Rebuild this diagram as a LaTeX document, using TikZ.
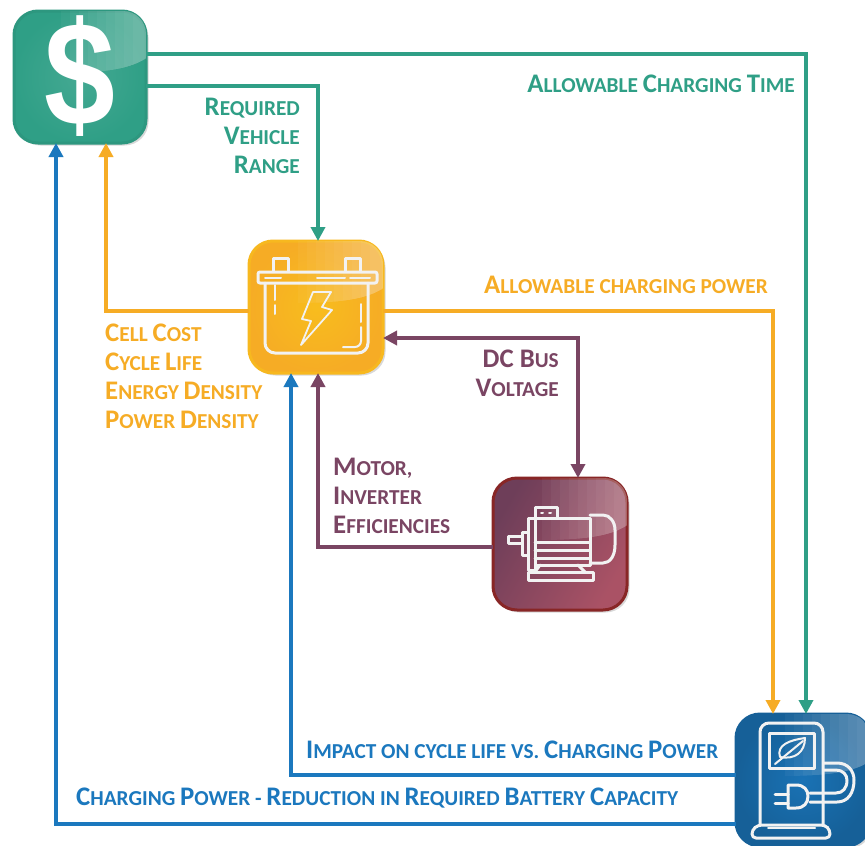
\documentclass[tikz,border=0pt]{standalone}
\usepackage{fontspec}
\usepackage{graphicx}
\usetikzlibrary{arrows.meta,shadows,calc}
\newfontfamily\lab{Carlito}
\newfontfamily\dolfont{Liberation Sans}
\definecolor{cgreen}{HTML}{2F9F86}
\definecolor{corange}{HTML}{F6AC25}
\definecolor{cpurple}{HTML}{7A4563}
\definecolor{cblue}{HTML}{1B78BE}
\newcommand\B[1]{{\fontsize{26.8}{29}\selectfont #1}}
\tikzset{
  x=1pt,y=-1pt,
  tile/.style={rectangle,rounded corners=24pt,inner sep=0pt,outer sep=0pt,minimum width=#1,minimum height=132pt,line width=3pt,
    drop shadow={shadow xshift=2.5pt,shadow yshift=-2.5pt,opacity=.25,fill=black!60}},
  wire/.style={line width=4pt,-{Triangle[length=14pt,width=14pt]}},
  wiretwo/.style={line width=4pt,{Triangle[length=14pt,width=14pt]}-{Triangle[length=14pt,width=14pt]}},
  txt/.style={font=\lab\bfseries\fontsize{21.3}{29}\selectfont,inner sep=0pt,align=#1},
  icon/.style={draw=white!95!black,line width=3pt,line join=round,line cap=round},
}
\newcommand\mygloss[1]{%
  \begin{scope}
    \clip[rounded corners=23pt] (#1.south west) rectangle (#1.north east);
    \clip ($(#1.north east)+(-90,-2)$) -- ($(#1.north east)+(2,-2)$) -- ($(#1.north east)+(2,46)$)
      .. controls ($(#1.north east)+(-15,58)$) and ($(#1.north east)+(-40,62)$) .. ($(#1.north east)+(-90,62)$) -- cycle;
    \foreach \k in {0,...,8}{
      \fill[white,fill opacity=.04] ($(#1.north east)+(-85+\k*9,-2)$) rectangle ($(#1.north east)+(3,70)$);
    }
  \end{scope}}
\begin{document}
\begin{tikzpicture}
\useasboundingbox (0,0) rectangle (865,846);
\fill[white] (0,0) rectangle (865,846);
% tiles
\node[tile=132pt,draw=cgreen!95!black,inner color=cgreen!90!white,outer color=cgreen] (dollar) at (80,77) {};
\mygloss{dollar}
\node[tile=134pt,draw=corange!85!yellow,inner color=corange!80!yellow,outer color=corange] (battery) at (316,307) {};
\mygloss{battery}
\node[tile=134pt,draw=red!45!black!85!white,left color=cpurple!90!black,right color=cpurple!75!red!85!white,shading angle=60] (motor) at (560,544) {};
\mygloss{motor}
\node[tile=134pt,draw=cblue!80!black,inner color=cblue!95!black,outer color=cblue!80!black] (charger) at (803,780) {};
\mygloss{charger}
\node[text=white,inner sep=0pt] (sign) at (80,76) {\scalebox{.86}[1]{\dolfont\bfseries\fontsize{148}{148}\selectfont \$}};
% battery icon
\draw[icon] (273,271) -- (273,258) -- (288,258) -- (288,271);
\draw[icon] (345,271) -- (345,258) -- (360,258) -- (360,271);
\draw[icon,rounded corners=2pt] (258,272) rectangle (377,283);
\draw[icon,rounded corners=10pt] (265,283) -- (265,353) -- (368,353) -- (368,283);
\draw[icon,line width=2pt] (265,277.5) -- (281,277.5) (317,277.5) -- (345,277.5) (350,277.5) -- (370,277.5);
\draw[icon,line width=2pt] (275,285) -- (275,300) (275,305) -- (275,314);
\draw[icon,line width=2pt] (361,304) -- (361,322);
\draw[icon,line width=2pt,rounded corners=6pt] (361,327) -- (361,347) -- (343,347);
\draw[icon,line width=1.8pt] (313,292) -- (331,292) -- (322,307) -- (332,310) -- (301,345) -- (311,321) -- (302,319) -- cycle;
% motor icon
\draw[icon] (535,518) -- (535,507) -- (557,507) -- (557,518);
\draw[icon,line width=2pt] (541,513) -- (543,513) (549,513) -- (551,513);
\draw[icon] (535,518) rectangle (590,565);
\draw[icon] (590,515) -- (603,515) .. controls (610,515) and (615,522) .. (615,530) -- (615,545) .. controls (615,556) and (610,563) .. (603,563) -- (590,563);
\draw[icon] (528,518) rectangle (535,570);
\draw[icon] (522,532) rectangle (528,555);
\draw[icon] (508,536) rectangle (522,543);
\draw[icon] (535,542) -- (590,542) (535,550) -- (590,550) (535,558) -- (590,558);
\draw[icon] (528,572) rectangle (593,580);
\draw[icon] (540,565) -- (535,572) (578,565) -- (585,572);
% charger icon
\draw[icon,rounded corners=9pt] (760,825) -- (760,723) -- (823,723) -- (823,825);
\draw[icon,rounded corners=4pt] (752,838) -- (752,830) -- (758,825) -- (825,825) -- (830,830) -- (830,838) -- cycle;
\draw[icon,line width=2pt] (768,828) -- (815,828);
\draw[icon] (769,733) rectangle (814,768);
\draw[icon,line width=2pt] (775,764) -- (803,741);
\draw[icon,line width=2pt] (780,757) .. controls (776,745) and (790,740) .. (805,738) .. controls (805,752) and (795,760) .. (780,757);
\draw[icon] (824,763) -- (837,763) .. controls (848,763) and (854,771) .. (854,780) .. controls (854,793) and (848,802) .. (837,802) -- (810,802);
\draw[icon] (824,770) -- (836,770) .. controls (843,770) and (847,775) .. (847,780) .. controls (847,788) and (843,793) .. (836,793) -- (810,793);
\draw[icon] (788,785) -- (796,785) .. controls (804,785) and (808,790) .. (808,796) .. controls (808,803) and (804,808) .. (796,808) -- (788,808) -- cycle;
\draw[icon] (775,794) -- (788,794) (775,803) -- (788,803);
% connectors
\draw[wire,cgreen] ([yshift=23pt]dollar.east) -| ([xshift=3pt]charger.north);
\draw[wire,cgreen] ([yshift=-9pt]dollar.east) -| ([xshift=2pt]battery.north);
\draw[wire,corange] ([yshift=-4pt]battery.west) -| ([xshift=26pt]dollar.south);
\draw[wire,corange] ([yshift=-4pt]battery.east) -| ([xshift=-30pt]charger.north);
\draw[wiretwo,cpurple] ([yshift=-31pt]battery.east) -| ([xshift=18pt]motor.north);
\draw[wire,cpurple] ([yshift=-3pt]motor.west) -| ([xshift=2pt]battery.south);
\draw[wire,cblue] ([yshift=5pt]charger.west) -| ([xshift=-25pt]battery.south);
\draw[wire,cblue] ([yshift=-44pt]charger.west) -| ([xshift=-24pt]dollar.south);
% labels
\node[txt=right,text=cgreen,anchor=north east] (lrange) at (300,98) {\B{R}EQUIRED\\\B{V}EHICLE\\\B{R}ANGE};
\node[txt=left,text=cgreen,anchor=east] (ltime) at (795,84) {\B{A}LLOWABLE \B{C}HARGING \B{T}IME};
\node[txt=left,text=corange,anchor=east] (lpower) at (768,285) {\B{A}LLOWABLE CHARGING POWER};
\node[txt=left,text=corange,anchor=north west] (lcell) at (105,324) {\B{C}ELL \B{C}OST\\\B{C}YCLE \B{L}IFE\\\B{E}NERGY \B{D}ENSITY\\\B{P}OWER \B{D}ENSITY};
\node[txt=right,text=cpurple,anchor=north east] (lbus) at (559,350) {\B{DC B}US\\\B{V}OLTAGE};
\node[txt=left,text=cpurple,anchor=north west] (leff) at (333,458) {\B{M}OTOR,\\\B{I}NVERTER\\\B{E}FFICIENCIES};
\node[txt=left,text=cblue,anchor=west] (limpact) at (306,750) {\B{I}MPACT ON CYCLE LIFE VS. \B{C}HARGING \B{P}OWER};
\node[txt=left,text=cblue,anchor=west] (lcap) at (76,798) {\B{C}HARGING \B{P}OWER - \B{R}EDUCTION IN \B{R}EQUIRED \B{B}ATTERY \B{C}APACITY};
\end{tikzpicture}
\end{document}
